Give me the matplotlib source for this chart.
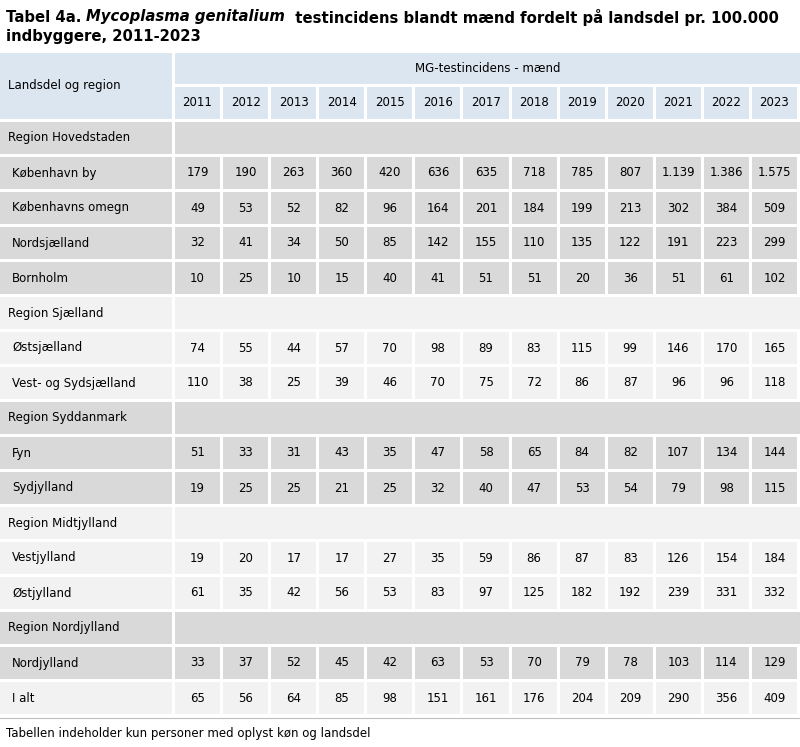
import matplotlib
matplotlib.use("Agg")
import matplotlib.pyplot as plt
from matplotlib.patches import Rectangle

years = ["2011","2012","2013","2014","2015","2016","2017","2018","2019","2020","2021","2022","2023"]
rows = [
    ("Region Hovedstaden", None),
    ("København by", ["179","190","263","360","420","636","635","718","785","807","1.139","1.386","1.575"]),
    ("Københavns omegn", ["49","53","52","82","96","164","201","184","199","213","302","384","509"]),
    ("Nordsjælland", ["32","41","34","50","85","142","155","110","135","122","191","223","299"]),
    ("Bornholm", ["10","25","10","15","40","41","51","51","20","36","51","61","102"]),
    ("Region Sjælland", None),
    ("Østsjælland", ["74","55","44","57","70","98","89","83","115","99","146","170","165"]),
    ("Vest- og Sydsjælland", ["110","38","25","39","46","70","75","72","86","87","96","96","118"]),
    ("Region Syddanmark", None),
    ("Fyn", ["51","33","31","43","35","47","58","65","84","82","107","134","144"]),
    ("Sydjylland", ["19","25","25","21","25","32","40","47","53","54","79","98","115"]),
    ("Region Midtjylland", None),
    ("Vestjylland", ["19","20","17","17","27","35","59","86","87","83","126","154","184"]),
    ("Østjylland", ["61","35","42","56","53","83","97","125","182","192","239","331","332"]),
    ("Region Nordjylland", None),
    ("Nordjylland", ["33","37","52","45","42","63","53","70","79","78","103","114","129"]),
    ("I alt", ["65","56","64","85","98","151","161","176","204","209","290","356","409"]),
]
title1 = "Tabel 4a. "
title_it = "Mycoplasma genitalium"
title2 = "  testincidens blandt mænd fordelt på landsdel pr. 100.000"
title3 = "indbyggere, 2011-2023"
footer = "Tabellen indeholder kun personer med oplyst køn og landsdel"

W, H = 800, 747
fig = plt.figure(figsize=(W/100, H/100), dpi=100)
ax = fig.add_axes([0, 0, 1, 1])
ax.set_xlim(0, W); ax.set_ylim(H, 0); ax.axis("off")
FONT = "DejaVu Sans"
FS = 8.5
TFS = 10.7

hdr = "#dce6f1"; dark = "#d9d9d9"; light = "#f2f2f2"
gap = 3
x0l, x1l = 0, 172
cx0 = 175
cw = (W - cx0) / len(years)

def rect(x, y, w, h, c):
    ax.add_patch(Rectangle((x, y), w, h, facecolor=c, edgecolor="none"))

t = ax.text(6, 17, title1, fontsize=TFS, fontweight="bold", family=FONT, va="center")
fig.canvas.draw()
r = fig.canvas.get_renderer()
bb = t.get_window_extent(r)
t2 = ax.text(6 + bb.width, 17, title_it, fontsize=TFS, fontweight="bold", style="italic", family=FONT, va="center")
bb2 = t2.get_window_extent(r)
ax.text(6 + bb.width + bb2.width, 17, title2, fontsize=TFS, fontweight="bold", family=FONT, va="center")
ax.text(6, 37, title3, fontsize=TFS, fontweight="bold", family=FONT, va="center")

rect(x0l, 53, x1l - x0l, 66, hdr)
ax.text(8, 86, "Landsdel og region", fontsize=FS, family=FONT, va="center")
rect(cx0, 53, W - cx0, 31, hdr)
ax.text((cx0 + W) / 2, 69, "MG-testincidens - mænd", fontsize=FS, family=FONT, va="center", ha="center")
for i, yr in enumerate(years):
    x = cx0 + i * cw
    rect(x, 87, cw - gap, 32, hdr)
    ax.text(x + (cw - gap) / 2, 103, yr, fontsize=FS, family=FONT, va="center", ha="center")

y = 122
pitch = 35
group = -1
for name, vals in rows:
    if vals is None:
        group += 1
    col = dark if group % 2 == 0 else light
    if name == "I alt":
        col = light
    h = pitch - gap
    rect(x0l, y, x1l - x0l, h, col)
    if vals is None:
        rect(cx0, y, W - cx0, h, col)
        ax.text(8, y + h / 2, name, fontsize=FS, family=FONT, va="center")
    else:
        ax.text(12, y + h / 2, name, fontsize=FS, family=FONT, va="center")
        for i, v in enumerate(vals):
            x = cx0 + i * cw
            rect(x, y, cw - gap, h, col)
            ax.text(x + (cw - gap) / 2, y + h / 2, v, fontsize=FS, family=FONT, va="center", ha="center")
    y += pitch

ax.plot([0, W], [y + 1, y + 1], color="#bfbfbf", lw=0.8)
ax.text(6, 733, footer, fontsize=FS, family=FONT, va="center")
fig.savefig("out.png", dpi=100)
